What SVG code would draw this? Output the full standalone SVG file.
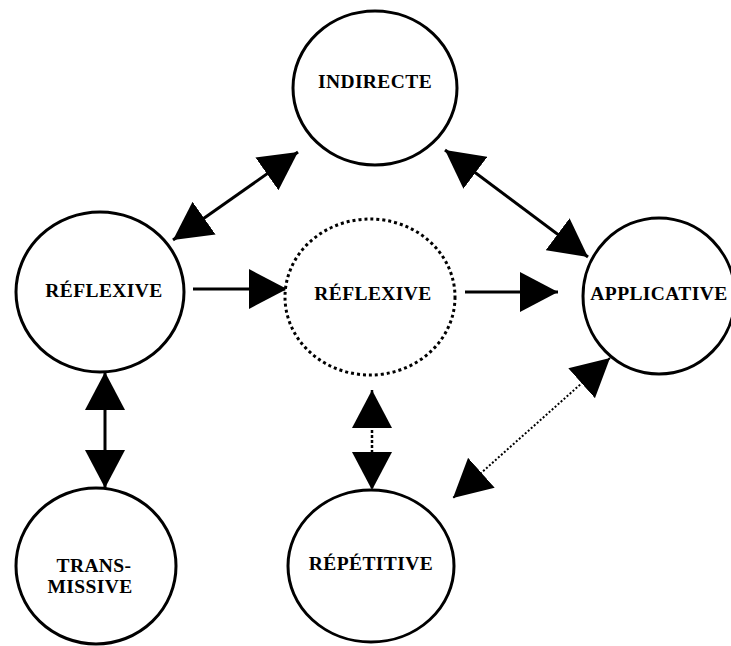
<svg xmlns="http://www.w3.org/2000/svg" width="731" height="646" viewBox="0 0 731 646">
  <style>
    .node { fill: #fff; stroke: #000; stroke-width: 3; }
    .virtual { stroke-dasharray: 3 3; }
    .label { font-family: "Liberation Serif", "Times New Roman", serif; font-weight: bold; font-size: 19.5px; letter-spacing: 0.4px; fill: #000; text-anchor: middle; }
    .link { fill: none; stroke: #000; stroke-width: 3; }
    .dots { stroke-width: 2.5; stroke-dasharray: 3 2; }
    .fine { stroke-width: 2; stroke-dasharray: 2 2; }
  </style>
  <defs>
    <marker id="head" viewBox="0 0 38 40" refX="38" refY="20" markerWidth="38" markerHeight="40" markerUnits="userSpaceOnUse" orient="auto-start-reverse">
      <path d="M0,0 L38,20 L0,40 Z" fill="#000" stroke="none"/>
    </marker>
  </defs>
  <rect width="731" height="646" fill="#fff"/>

  <g id="connectors">
    <line class="link" x1="173" y1="240" x2="298" y2="152" marker-start="url(#head)" marker-end="url(#head)"/>
    <line class="link" x1="445" y1="150" x2="588" y2="257" marker-start="url(#head)" marker-end="url(#head)"/>
    <line class="link" x1="193" y1="289" x2="287" y2="289" marker-end="url(#head)"/>
    <line class="link" x1="465" y1="292" x2="558" y2="292" marker-end="url(#head)"/>
    <line class="link" x1="105" y1="372" x2="105" y2="488" marker-start="url(#head)" marker-end="url(#head)"/>
    <line class="link dots" x1="372" y1="390" x2="372" y2="490" marker-start="url(#head)" marker-end="url(#head)"/>
    <line class="link fine" x1="610" y1="358" x2="453" y2="498" marker-start="url(#head)" marker-end="url(#head)"/>
  </g>

  <g id="indirecte">
    <ellipse class="node" cx="375" cy="88" rx="82" ry="77"/>
    <text class="label" x="375" y="88">INDIRECTE</text>
  </g>
  <g id="reflexive">
    <ellipse class="node" cx="100" cy="292" rx="84" ry="80"/>
    <text class="label" x="104" y="297">RÉFLEXIVE</text>
  </g>
  <g id="reflexive-virtual">
    <ellipse class="node virtual" cx="370" cy="297" rx="85" ry="78"/>
    <text class="label" x="373" y="300">RÉFLEXIVE</text>
  </g>
  <g id="applicative">
    <ellipse class="node" cx="659" cy="296" rx="76" ry="78"/>
    <text class="label" x="659" y="300">APPLICATIVE</text>
  </g>
  <g id="repetitive">
    <ellipse class="node" cx="371" cy="566" rx="83" ry="76"/>
    <text class="label" x="371" y="570">RÉPÉTITIVE</text>
  </g>
  <g id="transmissive">
    <ellipse class="node" cx="96" cy="566" rx="80" ry="78"/>
    <text class="label" x="94" y="572">TRANS-</text>
    <text class="label" x="90" y="593">MISSIVE</text>
  </g>
</svg>
